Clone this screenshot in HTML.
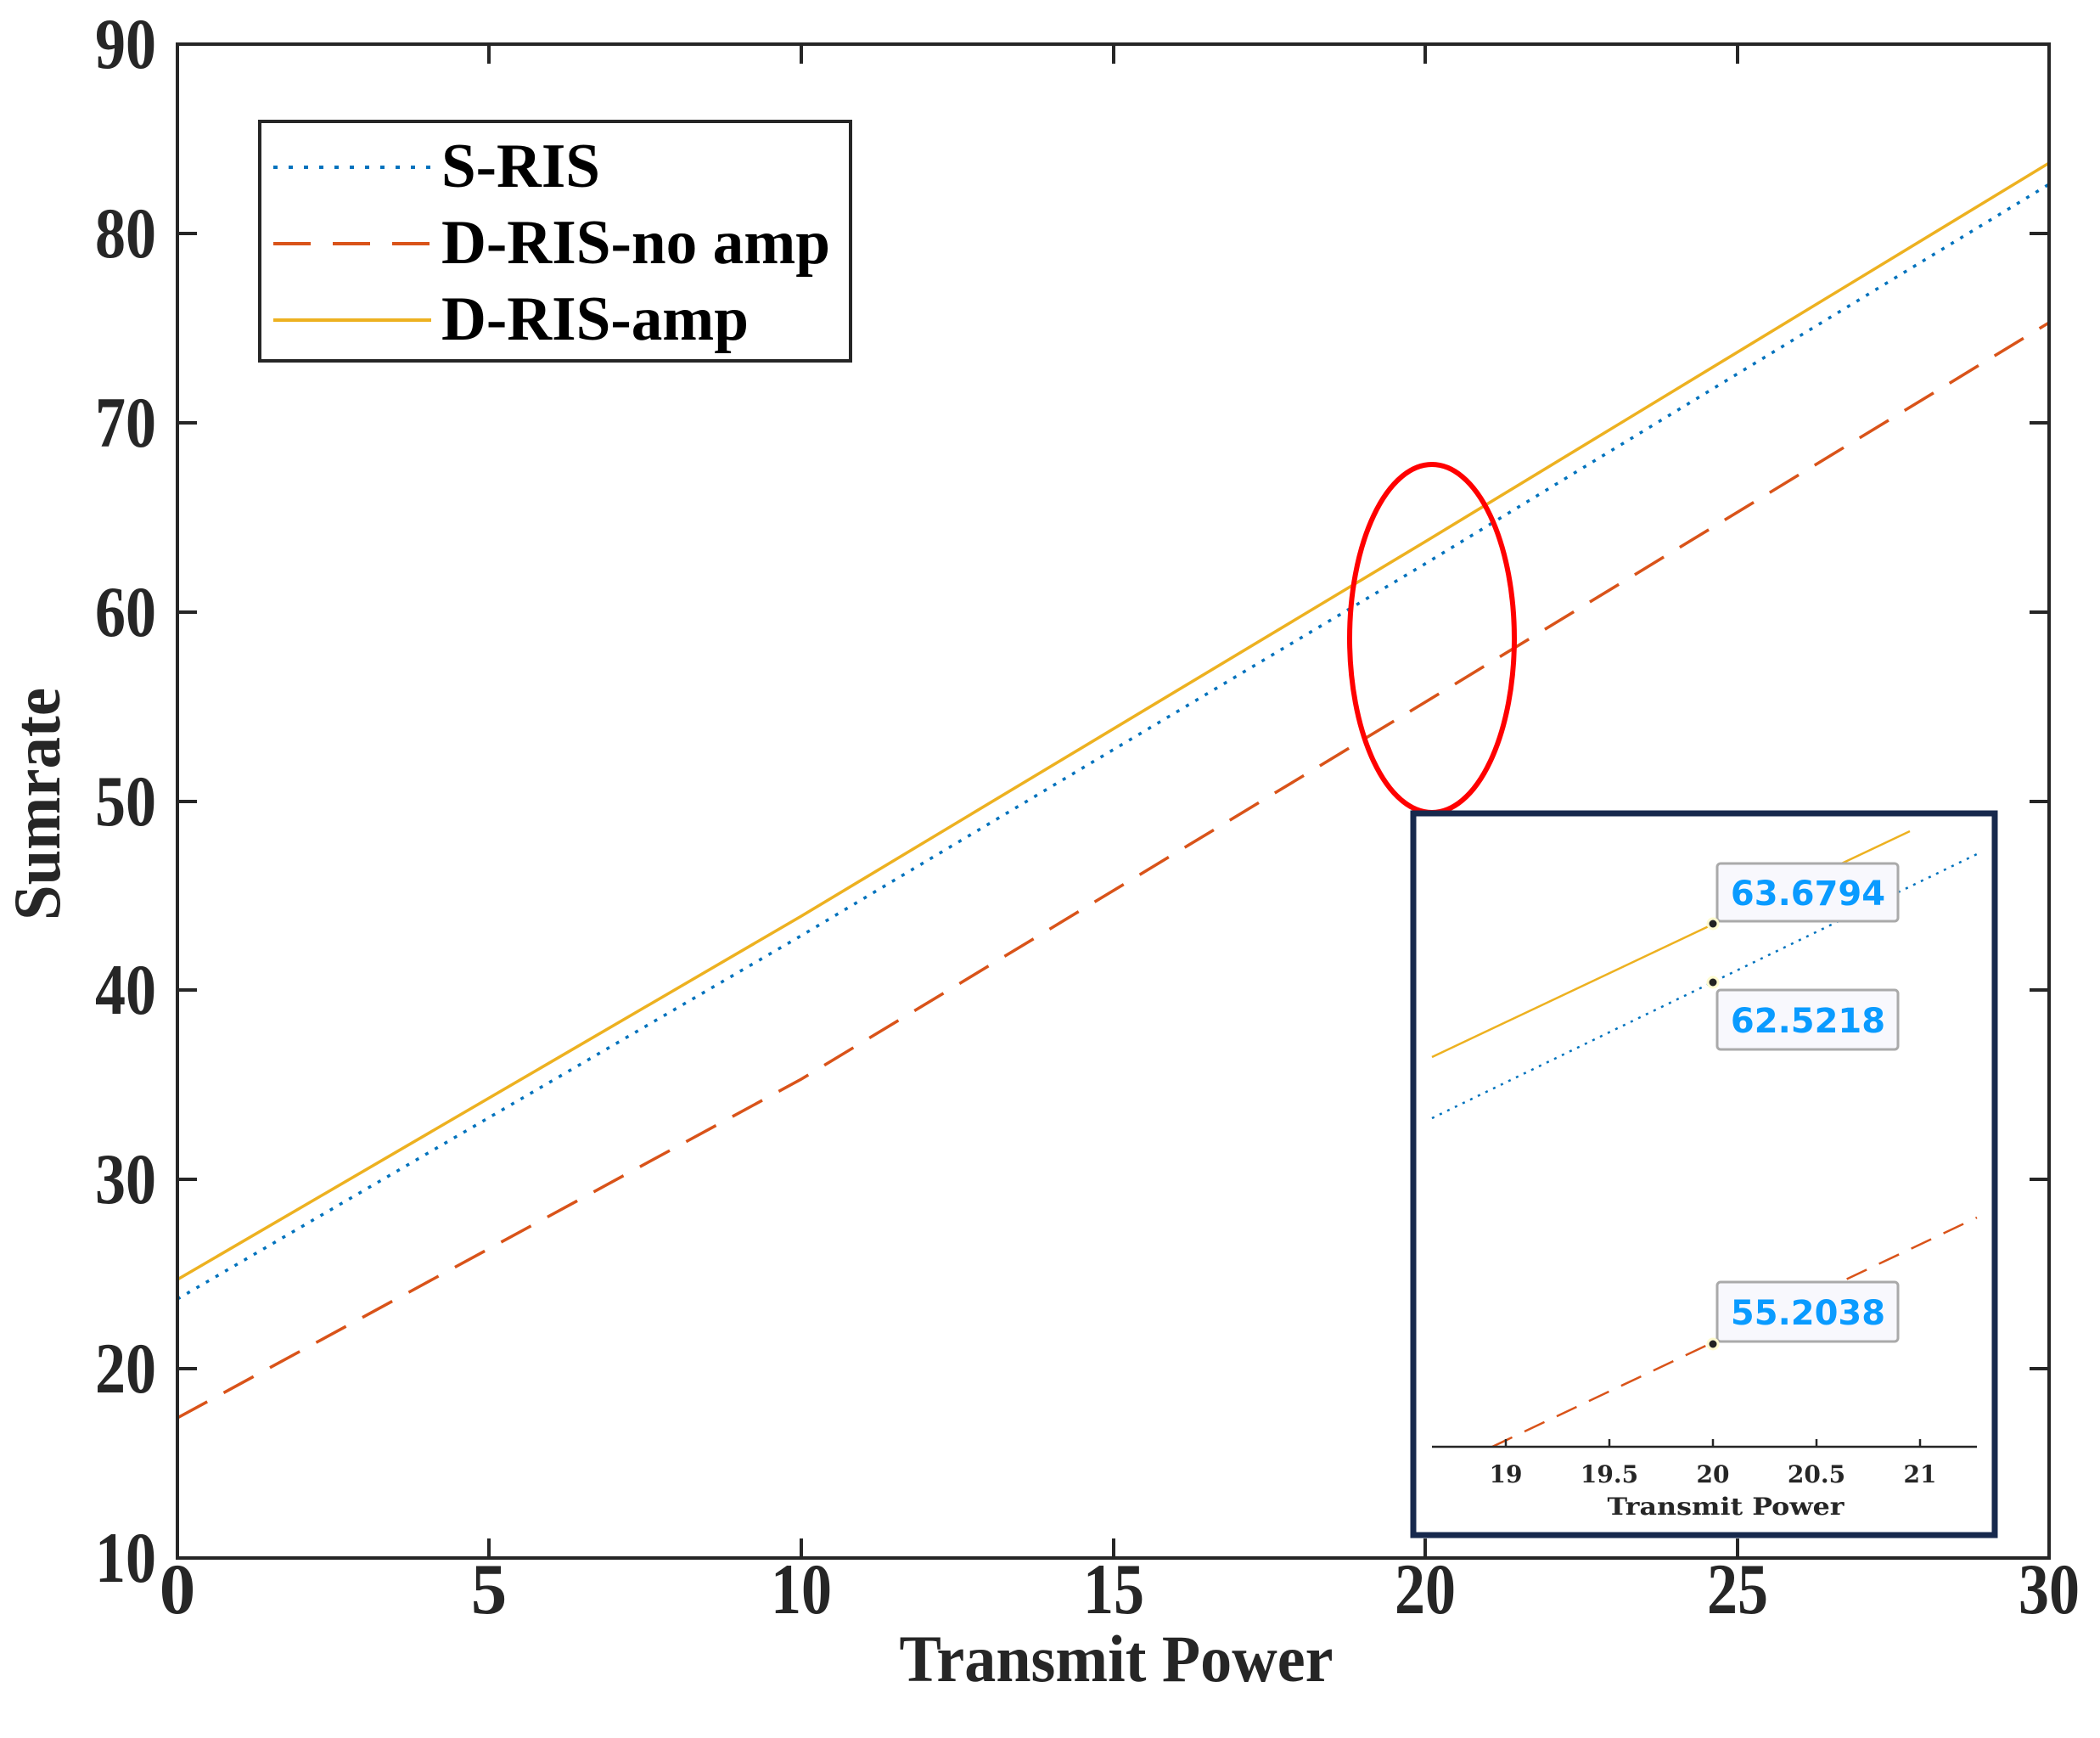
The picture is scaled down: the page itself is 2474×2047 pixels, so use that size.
<!DOCTYPE html>
<html><head><meta charset="utf-8"><style>
html,body{margin:0;padding:0;background:#fff;}
svg{display:block;}
</style></head><body>
<svg width="2474" height="2047" viewBox="0 0 2474 2047" xmlns="http://www.w3.org/2000/svg">
<rect width="2474" height="2047" fill="#fff"/>
<g fill="none" stroke-width="3.5">
<polyline points="209,1507 944,1079 1679,638 2414,192" stroke="#EDB120"/>
<polyline points="209,1530 944,1102 1679,664 2414,217" stroke="#0072BD" stroke-dasharray="4 9"/>
<polyline points="209,1670 944,1271 1679,827 2414,380" stroke="#D95319" stroke-dasharray="40 22"/>
</g>
<rect x="209" y="52" width="2205" height="1783" fill="none" stroke="#262626" stroke-width="4"/>
<g stroke="#262626" stroke-width="4">
<line x1="209" y1="275" x2="232" y2="275"/><line x1="209" y1="498" x2="232" y2="498"/>
<line x1="209" y1="721" x2="232" y2="721"/><line x1="209" y1="944" x2="232" y2="944"/>
<line x1="209" y1="1166" x2="232" y2="1166"/><line x1="209" y1="1389" x2="232" y2="1389"/>
<line x1="209" y1="1612" x2="232" y2="1612"/>
<line x1="2414" y1="275" x2="2391" y2="275"/><line x1="2414" y1="498" x2="2391" y2="498"/>
<line x1="2414" y1="721" x2="2391" y2="721"/><line x1="2414" y1="944" x2="2391" y2="944"/>
<line x1="2414" y1="1166" x2="2391" y2="1166"/><line x1="2414" y1="1389" x2="2391" y2="1389"/>
<line x1="2414" y1="1612" x2="2391" y2="1612"/>
<line x1="576" y1="1835" x2="576" y2="1812"/><line x1="944" y1="1835" x2="944" y2="1812"/>
<line x1="1312" y1="1835" x2="1312" y2="1812"/><line x1="1679" y1="1835" x2="1679" y2="1812"/>
<line x1="2047" y1="1835" x2="2047" y2="1812"/>
<line x1="576" y1="52" x2="576" y2="75"/><line x1="944" y1="52" x2="944" y2="75"/>
<line x1="1312" y1="52" x2="1312" y2="75"/><line x1="1679" y1="52" x2="1679" y2="75"/>
<line x1="2047" y1="52" x2="2047" y2="75"/>
</g>
<g font-family="Liberation Serif, serif" font-weight="bold" font-size="85" fill="#262626" text-anchor="end">
<text x="184" y="80" textLength="72" lengthAdjust="spacingAndGlyphs">90</text>
<text x="184" y="303" textLength="72" lengthAdjust="spacingAndGlyphs">80</text>
<text x="184" y="526" textLength="72" lengthAdjust="spacingAndGlyphs">70</text>
<text x="184" y="749" textLength="72" lengthAdjust="spacingAndGlyphs">60</text>
<text x="184" y="972" textLength="72" lengthAdjust="spacingAndGlyphs">50</text>
<text x="184" y="1194" textLength="72" lengthAdjust="spacingAndGlyphs">40</text>
<text x="184" y="1417" textLength="72" lengthAdjust="spacingAndGlyphs">30</text>
<text x="184" y="1640" textLength="72" lengthAdjust="spacingAndGlyphs">20</text>
<text x="184" y="1863" textLength="72" lengthAdjust="spacingAndGlyphs">10</text>
</g>
<g font-family="Liberation Serif, serif" font-weight="bold" font-size="85" fill="#262626" text-anchor="middle">
<text x="209" y="1900">0</text><text x="576" y="1900">5</text>
<text x="944" y="1900" textLength="72" lengthAdjust="spacingAndGlyphs">10</text>
<text x="1312" y="1900" textLength="72" lengthAdjust="spacingAndGlyphs">15</text>
<text x="1679" y="1900" textLength="72" lengthAdjust="spacingAndGlyphs">20</text>
<text x="2047" y="1900" textLength="72" lengthAdjust="spacingAndGlyphs">25</text>
<text x="2414" y="1900" textLength="72" lengthAdjust="spacingAndGlyphs">30</text>
<text x="1315" y="1980" font-size="78" textLength="511" lengthAdjust="spacingAndGlyphs">Transmit Power</text>
<text transform="translate(70,947) rotate(-90)" font-size="78" textLength="274" lengthAdjust="spacingAndGlyphs">Sumrate</text>
</g>
<rect x="306" y="143" width="696" height="282" fill="#fff" stroke="#262626" stroke-width="4"/>
<line x1="322" y1="197" x2="508" y2="197" stroke="#0072BD" stroke-width="4" stroke-dasharray="5 13"/>
<line x1="322" y1="287" x2="508" y2="287" stroke="#D95319" stroke-width="4" stroke-dasharray="44 26"/>
<line x1="322" y1="377" x2="508" y2="377" stroke="#EDB120" stroke-width="4"/>
<g font-family="Liberation Serif, serif" font-weight="bold" font-size="74" fill="#000">
<text x="520" y="220" textLength="187" lengthAdjust="spacingAndGlyphs">S-RIS</text>
<text x="520" y="310" textLength="458" lengthAdjust="spacingAndGlyphs">D-RIS-no amp</text>
<text x="520" y="400" textLength="362" lengthAdjust="spacingAndGlyphs">D-RIS-amp</text>
</g>
<ellipse cx="1687" cy="752" rx="97" ry="205" fill="none" stroke="#ff0000" stroke-width="6"/>
<rect x="1665" y="958" width="685" height="850" fill="#fff" stroke="#17294d" stroke-width="7"/>
<g fill="none" stroke-width="2.5">
<line x1="1687" y1="1245" x2="2250" y2="979" stroke="#EDB120"/>
<line x1="1687" y1="1317" x2="2329" y2="1006" stroke="#0072BD" stroke-dasharray="3 7"/>
<line x1="1758" y1="1704" x2="2329" y2="1434" stroke="#D95319" stroke-dasharray="26 16"/>
</g>
<line x1="1687" y1="1704" x2="2329" y2="1704" stroke="#262626" stroke-width="2.5"/>
<g stroke="#262626" stroke-width="2.5">
<line x1="1774" y1="1704" x2="1774" y2="1695"/><line x1="1896" y1="1704" x2="1896" y2="1695"/>
<line x1="2018" y1="1704" x2="2018" y2="1695"/><line x1="2140" y1="1704" x2="2140" y2="1695"/>
<line x1="2262" y1="1704" x2="2262" y2="1695"/>
</g>
<g font-family="DejaVu Serif, serif" font-weight="bold" font-size="28" fill="#262626" text-anchor="middle">
<text x="1774" y="1746">19</text><text x="1896" y="1746">19.5</text><text x="2018" y="1746">20</text>
<text x="2140" y="1746">20.5</text><text x="2262" y="1746">21</text>
<text x="2033" y="1784" textLength="279" lengthAdjust="spacingAndGlyphs">Transmit Power</text>
</g>
<g fill="#f8f8fd" stroke="#aaa" stroke-width="3">
<rect x="2023" y="1017" width="213" height="68" rx="4"/>
<rect x="2023" y="1166" width="213" height="70" rx="4"/>
<rect x="2023" y="1510" width="213" height="70" rx="4"/>
</g>
<g font-family="DejaVu Sans, sans-serif" font-weight="bold" font-size="40" fill="#0a9bff" text-anchor="middle">
<text x="2130" y="1066">63.6794</text><text x="2130" y="1216">62.5218</text><text x="2130" y="1560">55.2038</text>
</g>
<g fill="#222" stroke="#fffbd0" stroke-width="3">
<circle cx="2018" cy="1088" r="6"/><circle cx="2018" cy="1157" r="6"/><circle cx="2018" cy="1583" r="6"/>
</g>
</svg>
</body></html>
